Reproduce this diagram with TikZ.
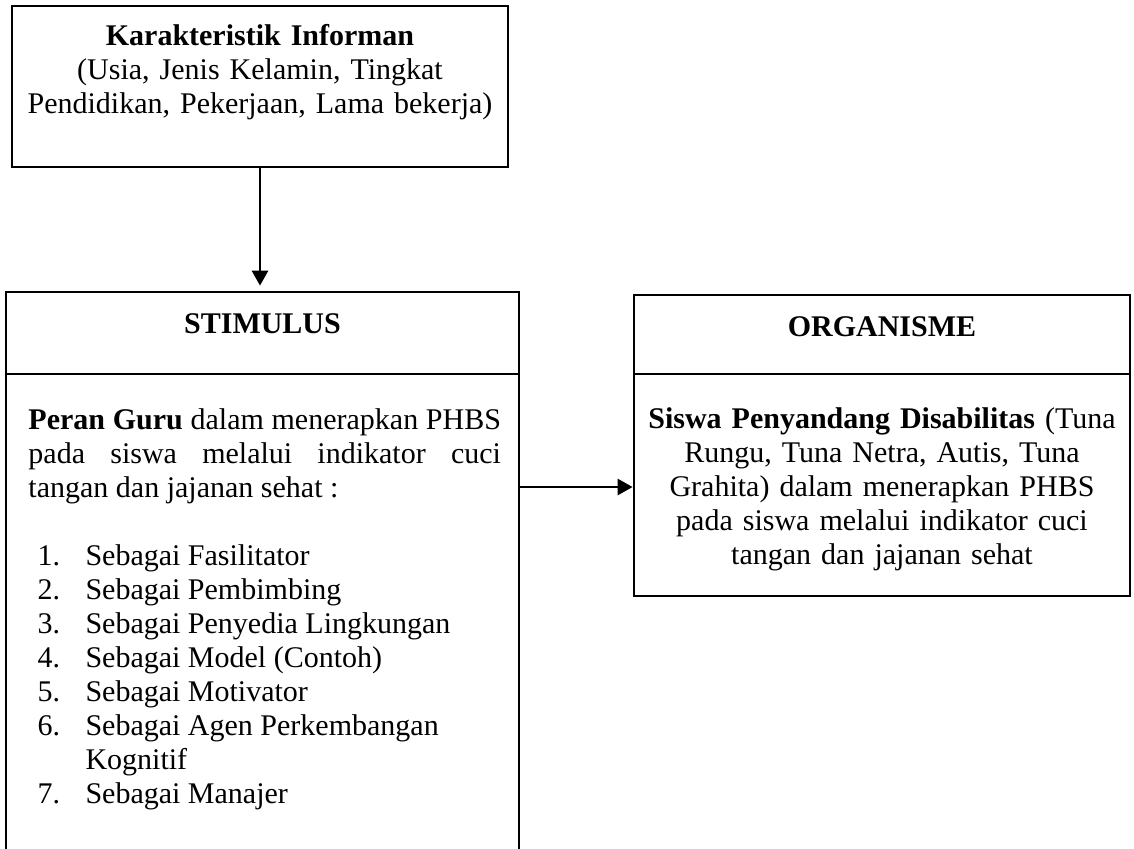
\documentclass[tikz,border=0pt]{standalone}
\usepackage{fontspec}
\setmainfont{Liberation Serif}
\usetikzlibrary{arrows.meta,fit}
\newcommand\bodyfont{\fontsize{12}{13.6}\selectfont}
\begin{document}
\begin{tikzpicture}[x=0.4pt,y=-0.4pt,
  box/.style={draw, line width=1.1pt, inner sep=0pt},
  txt/.style={inner sep=0pt, font=\bodyfont},
  head/.style={inner sep=0pt, font=\bodyfont\bfseries},
  link/.style={line width=1.1pt, -{Triangle[length=6pt,width=6.4pt]}}]
\clip (0,0) rectangle (1134,848);
\fill[white] (0,0) rectangle (1134,848);

% boxes
\node[box, fit={(12,6) (508,167)}] (info) {};
\node[box, fit={(6,292) (519,880)}] (stim) {};
\node[box, fit={(634,295) (1130,596)}] (org) {};

% header dividers
\coordinate (sdiv) at (0,374);
\coordinate (odiv) at (0,374);
\draw[line width=1.1pt] (stim.west |- sdiv) -- (stim.east |- sdiv);
\draw[line width=1.1pt] (org.west |- odiv) -- (org.east |- odiv);

% informant characteristics
\node[txt, anchor=north, text width=200pt, align=center] (infotext) at (260,21.2)
  {\strut\textbf{Karakteristik Informan}\\(Usia, Jenis Kelamin, Tingkat\\Pendidikan, Pekerjaan, Lama bekerja)};

% stimulus
\node[head, anchor=base] (stimhead) at (262.5,333) {STIMULUS};
\node[txt, anchor=north west, text width=189pt, align=justify] (stimtext) at (28,405.2)
  {\strut\textbf{Peran Guru} dalam menerapkan PHBS\linebreak
   pada siswa melalui indikator cuci\linebreak
   tangan dan jajanan sehat :};
\node[txt, anchor=north west] (roles) at (37,541.2)
  {\begin{tabular}{@{}p{19.2pt}@{}l@{}}
   1. & Sebagai Fasilitator\\
   2. & Sebagai Pembimbing\\
   3. & Sebagai Penyedia Lingkungan\\
   4. & Sebagai Model (Contoh)\\
   5. & Sebagai Motivator\\
   6. & Sebagai Agen Perkembangan\\
      & Kognitif\\
   7. & Sebagai Manajer
   \end{tabular}};

% organism
\node[head, anchor=base] (orghead) at (882,336) {ORGANISME};
\node[txt, anchor=north, text width=200pt, align=center] (orgtext) at (882,404.2)
  {\strut\textbf{Siswa Penyandang Disabilitas} (Tuna\\
   Rungu, Tuna Netra, Autis, Tuna\\
   Grahita) dalam menerapkan PHBS\\
   pada siswa melalui indikator cuci\\
   tangan dan jajanan sehat};

% connectors
\coordinate (lvl) at (0,487);
\draw[link, shorten >=2pt] (info.south) -- (info.south |- stim.north);
\draw[link] (stim.east |- lvl) -- (org.west |- lvl);
\end{tikzpicture}
\end{document}
